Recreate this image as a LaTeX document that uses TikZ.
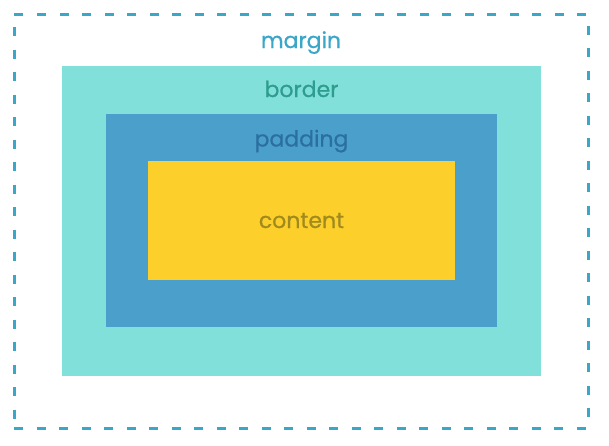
\documentclass[tikz,border=0pt]{standalone}
\usepackage{fontspec}
\setmainfont{Poppins}
\newfontfamily\lblfont{Poppins}[FakeBold=0.6]
\usetikzlibrary{positioning}
\definecolor{dashblue}{HTML}{3AA6C8}
\definecolor{brdfill}{HTML}{82E0DA}
\definecolor{brdtext}{HTML}{2E9C8E}
\definecolor{padfill}{HTML}{4AA0CB}
\definecolor{padtext}{HTML}{2B6FA0}
\definecolor{cntfill}{HTML}{FCCF2A}
\definecolor{cnttext}{HTML}{A08A1E}

\begin{document}
\begin{tikzpicture}[
    x=0.5pt, y=-0.5pt,
    layer/.style={rectangle, inner sep=0pt, outer sep=0pt},
    lbl/.style={inner sep=0pt, font=\lblfont\fontsize{11}{13}\selectfont},
  ]
  \useasboundingbox (0,0) rectangle (609,445);

  % boxes, outside in
  \node[layer, draw=dashblue, line width=1.5pt, dash pattern=on 4.5pt off 6.75pt,
        minimum width=287pt, minimum height=207pt] (mrg) at (301,221) {};
  \node[layer, fill=brdfill, minimum width=239.5pt, minimum height=155pt] (brd) at (301.5,221) {};
  \node[layer, fill=padfill, minimum width=195.5pt, minimum height=106.5pt] (pad) at (301.5,220.5) {};
  \node[layer, fill=cntfill, minimum width=153.5pt, minimum height=59.5pt] (cnt) at (301.5,220.5) {};

  % labels
  \node[lbl, text=dashblue, below=17pt of mrg.north, anchor=base] (mrgtxt) {margin};
  \node[lbl, text=brdtext, below=15.5pt of brd.north, anchor=base] (brdtxt) {border};
  \node[lbl, text=padtext, below=16.25pt of pad.north, anchor=base] (padtxt) {padding};
  \node[lbl, text=cnttext, below=33.5pt of cnt.north, anchor=base] (cnttxt) {content};
\end{tikzpicture}
\end{document}
